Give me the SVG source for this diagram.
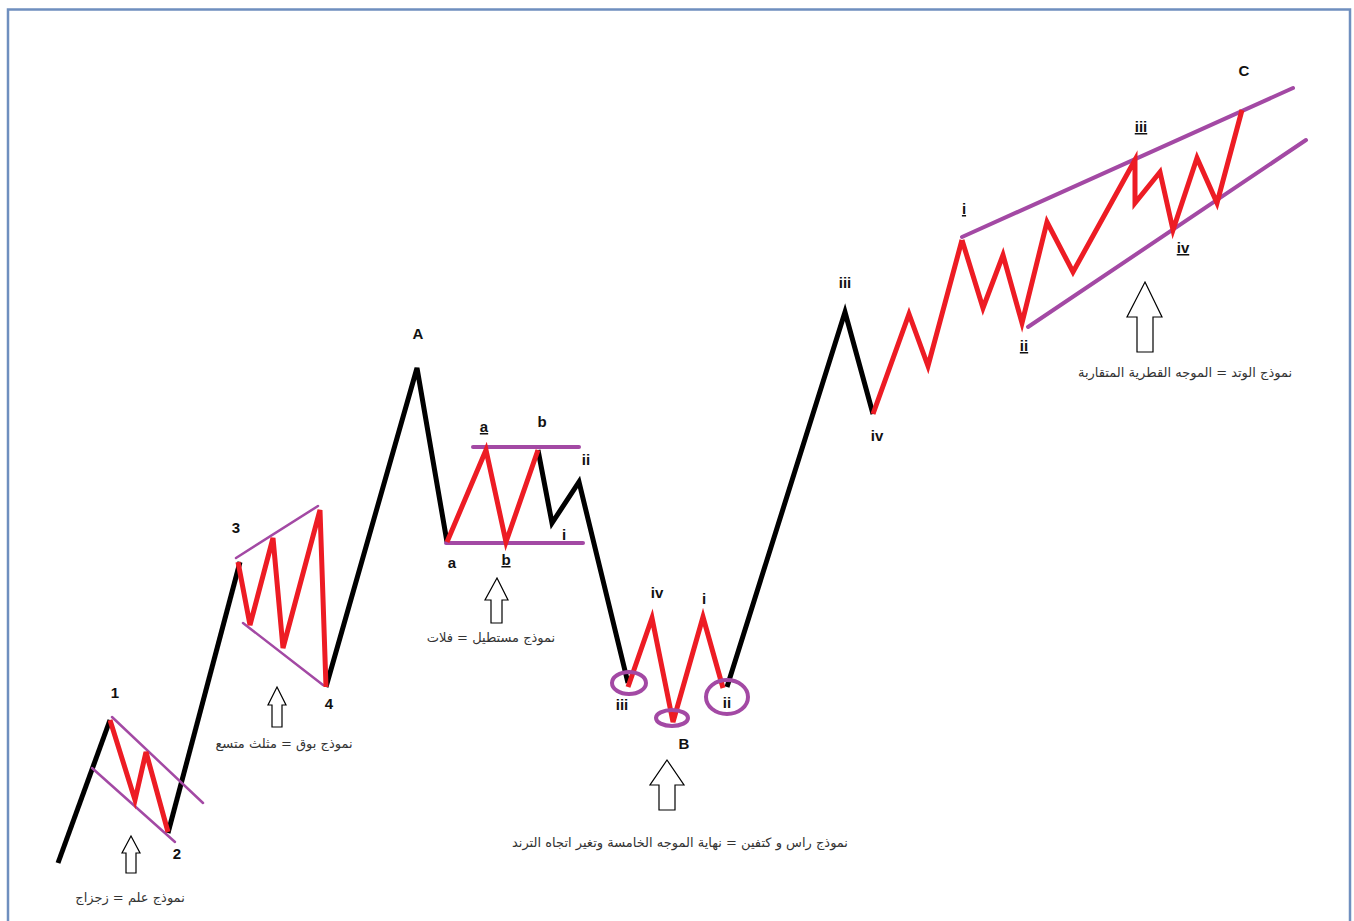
<svg xmlns="http://www.w3.org/2000/svg" width="1354" height="921" viewBox="0 0 1354 921">
<style>
.blk{fill:none;stroke:#000;stroke-width:5;stroke-linejoin:miter;stroke-linecap:butt}
.red{fill:none;stroke:#ed1c24;stroke-width:5;stroke-linejoin:miter}
.pur{fill:none;stroke:#a349a4;stroke-width:4;stroke-linecap:round}
.purt{fill:none;stroke:#a349a4;stroke-width:2.5;stroke-linecap:round}
.lbl{font-family:"Liberation Sans",Arial,sans-serif;font-weight:bold;font-size:15px;fill:#111;text-anchor:middle}
.ar{font-family:"DejaVu Sans","Noto Sans",sans-serif;font-size:13px;fill:#333;text-anchor:middle}
.arw{fill:#fff;stroke:#000;stroke-width:1.2}
.u{text-decoration:underline}
</style>
<rect x="0" y="0" width="1354" height="921" fill="#fff"/>
<path d="M8,921 V9.5 H1350 V921" fill="none" stroke="#6f8fbf" stroke-width="2.5"/>
<g id="connectors">
<polyline class="blk" points="58,863 110,720"/>
<polyline class="blk" points="168,833 240,562"/>
<polyline class="blk" points="326,687 417,368 447,542"/>
<polyline class="blk" points="538,450 552,523 579,482 628,683"/>
<polyline class="blk" points="727,687 845,312 873,414"/>
</g>
<g id="flag">
<line class="purt" x1="112" y1="717" x2="203" y2="803"/>
<line class="purt" x1="92" y1="768" x2="175" y2="842"/>
<polyline class="red" points="110,720 135,800 146,752 168,832"/>
<text class="lbl" x="115" y="698">1</text>
<text class="lbl" x="177" y="859">2</text>
<polygon class="arw" points="131,836 140,853 136,853 136,873 126,873 126,853 122,853"/>
<text class="ar" x="130" y="902">نموذج علم = زجزاج</text>
</g>
<g id="trumpet">
<line class="purt" x1="236" y1="558" x2="318" y2="506"/>
<line class="purt" x1="243" y1="623" x2="323" y2="685"/>
<polyline class="red" points="238,562 250,625 273,538 283,648 320,510 326,687"/>
<text class="lbl" x="236" y="533">3</text>
<text class="lbl" x="329" y="709">4</text>
<polygon class="arw" points="277,687 286,705 282,705 282,727 272,727 272,705 268,705"/>
<text class="ar" x="284" y="748">نموذج بوق = مثلث متسع</text>
</g>
<g id="rectangle">
<line class="pur" x1="473" y1="447" x2="579" y2="447"/>
<line class="pur" x1="446" y1="543" x2="583" y2="543"/>
<polyline class="red" points="447,542 486,450 506,542 538,450"/>
<text class="lbl" x="418" y="339">A</text>
<text class="lbl u" x="484" y="432">a</text>
<text class="lbl" x="542" y="427">b</text>
<text class="lbl" x="586" y="465">ii</text>
<text class="lbl" x="564" y="540">i</text>
<text class="lbl" x="452" y="568">a</text>
<text class="lbl u" x="506" y="565">b</text>
<polygon class="arw" points="497,578 508,600 502,600 502,623 491,623 491,600 485,600"/>
<text class="ar" x="491" y="642">نموذج مستطيل = فلات</text>
</g>
<g id="headshoulders">
<polyline class="red" points="628,687 652,618 673,722 703,617 723,688"/>
<ellipse cx="629" cy="683" rx="17" ry="11" fill="none" stroke="#a349a4" stroke-width="4"/>
<ellipse cx="672" cy="718" rx="16" ry="8" fill="none" stroke="#a349a4" stroke-width="4"/>
<ellipse cx="727" cy="697" rx="21" ry="17" fill="none" stroke="#a349a4" stroke-width="4"/>
<text class="lbl" x="657" y="598">iv</text>
<text class="lbl" x="704" y="604">i</text>
<text class="lbl" x="622" y="710">iii</text>
<text class="lbl" x="727" y="708">ii</text>
<text class="lbl" x="684" y="749">B</text>
<polygon class="arw" points="667,760 684,785 675,785 675,810 659,810 659,785 650,785"/>
<text class="ar" x="680" y="847">نموذج راس و كتفين = نهاية الموجه الخامسة وتغير اتجاه الترند</text>
</g>
<g id="iii-iv">
<text class="lbl" x="845" y="288">iii</text>
<text class="lbl" x="877" y="441">iv</text>
<polyline class="red" points="873,414 909,314 928,366 962,240"/>
</g>
<g id="wedge">
<line class="pur" x1="962" y1="237" x2="1293" y2="88"/>
<line class="pur" x1="1028" y1="327" x2="1306" y2="140"/>
<polyline class="red" points="962,240 983,308 1003,255 1022,323 1047,222 1073,272 1135,160 1135,203 1160,172 1173,230 1197,158 1217,203 1242,110"/>
<text class="lbl u" x="964" y="214">i</text>
<text class="lbl u" x="1024" y="351">ii</text>
<text class="lbl u" x="1141" y="132">iii</text>
<text class="lbl u" x="1183" y="253">iv</text>
<text class="lbl" x="1244" y="76">C</text>
<polygon class="arw" points="1145,282 1162,317 1153,317 1153,352 1137,352 1137,317 1127,317"/>
<text class="ar" x="1185" y="377">نموذج الوتد = الموجه القطرية المتقاربة</text>
</g>
</svg>
